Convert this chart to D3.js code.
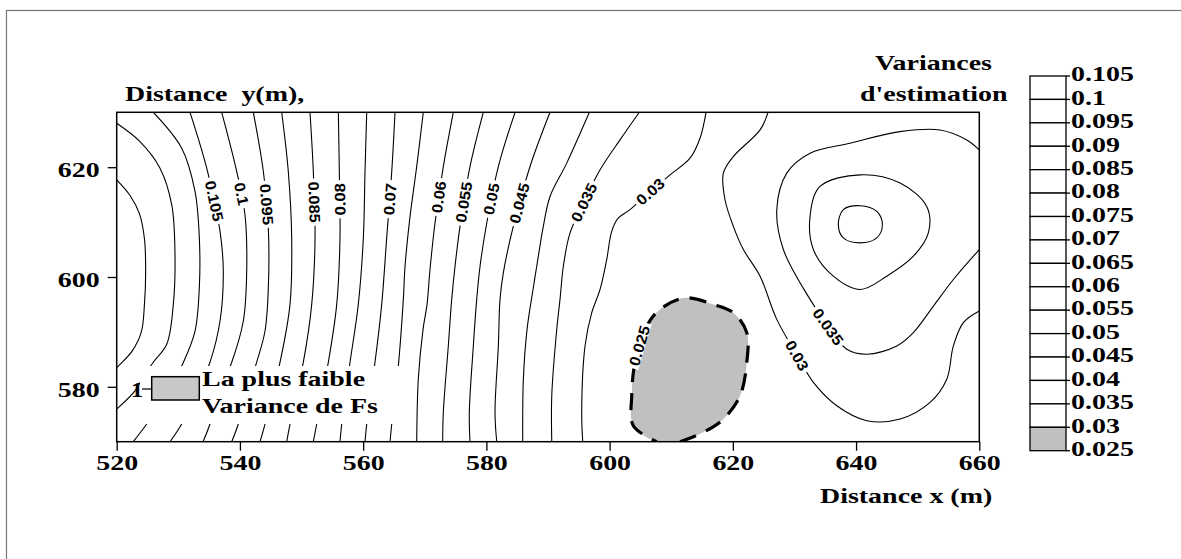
<!DOCTYPE html>
<html>
<head>
<meta charset="utf-8">
<script src="https://cdn.jsdelivr.net/npm/d3@7"></script>
<style>
  body { margin: 0; background: #fff; }
  .serif { font-family: "Liberation Serif", "Times New Roman", serif; font-weight: bold; }
  .clab { font-family: "Liberation Sans", Arial, sans-serif; font-weight: bold; }
</style>
</head>
<body>
<svg id="chart" width="1181" height="559"></svg>
<script>
// axis ticks
var xTicks = [520, 540, 560, 580, 600, 620, 640, 660];
var yTicks = [580, 600, 620];

// legend classes (top to bottom), lowest class is shaded
var legendLevels = ['0.105', '0.1', '0.095', '0.09', '0.085', '0.08', '0.075', '0.07',
                    '0.065', '0.06', '0.055', '0.05', '0.045', '0.04', '0.035', '0.03', '0.025'];

// contour lines, [x (m), y (m)]
var contourLines = [
  {level: '0.12', pts: [[520,617.7],[522.2,614.8],[523.7,611.5],[524.5,607],[524.7,601],[524.5,595],[524,590],[522.5,586.5],[520,583.5]]},
  {level: '0.115', pts: [[520,628.0],[523.78,624.66],[527.03,619.83],[528.93,613.17],[529.46,604.09],[529.19,595.01],[528.12,587.74],[525.94,584.48],[524.27,581.75],[522.97,579.26],[520,575.94]]},
  {level: '0.11', pts: [[525.94,630],[530.55,623.46],[532.71,615.58],[533.41,607.17],[533.41,598.09],[532.71,590.16],[530.76,584.3],[528.2,578.8],[524.87,573.22],[522.69,570]]},
  {level: '0.105', pts: [[531.9,630],[534.61,619.83],[536.77,608.32],[537.3,601.06],[536.77,591.98],[535.14,584.48],[533.0,579.0],[530.55,573.22],[528.65,570]]},
  {level: '0.1', pts: [[537.04,630],[539.48,619.21],[540.82,611.35],[541.1,601.06],[540.55,591.98],[538.67,584.48],[536.6,579.0],[535.14,573.22],[534.01,570]]},
  {level: '0.095', pts: [[542.17,630],[543.8,619.21],[544.61,608.94],[544.61,598.04],[544.07,590.16],[542.72,584.48],[541.2,579.0],[539.74,573.22],[538.67,570]]},
  {level: '0.09', pts: [[546.78,630],[547.85,619.21],[548.4,607.12],[548.13,595.01],[546.51,584.48],[545.3,579.0],[544.07,573.22],[543.26,570]]},
  {level: '0.085', pts: [[551.37,630],[551.91,619.21],[552.19,607.12],[551.65,595.01],[550.29,584.48],[549.2,579.0],[548.13,573.22],[547.59,570]]},
  {level: '0.08', pts: [[555.97,630],[556.13,619.21],[556.24,607.12],[555.71,595.01],[554.35,584.48],[553.4,579.0],[552.46,573.22],[551.91,570]]},
  {level: '0.075', pts: [[560.58,630],[560.3,619.21],[560.03,607.12],[559.21,595.01],[557.87,584.48],[557.2,579.0],[556.52,573.22],[556.24,570]]},
  {level: '0.07', pts: [[565.17,630],[564.64,619.21],[563.82,607.12],[563.01,595.01],[561.92,584.48],[561.2,579.0],[560.58,573.22],[560.3,570]]},
  {level: '0.065', pts: [[569.76,630],[568.69,620.12],[567.61,611.04],[566.8,601.96],[566.52,595.92],[565.71,583.8],[564.64,573.22],[564.36,570]]},
  {level: '0.06', pts: [[574.63,630],[573.01,620.12],[571.66,609.84],[570.85,601.36],[570.37,595.01],[569.72,590.47],[568.95,581.39],[568.69,570]]},
  {level: '0.055', pts: [[579.5,630],[577.34,620.12],[575.72,609.23],[574.91,601.96],[574.37,595.92],[573.82,587.44],[573.01,575.34],[572.91,570]]},
  {level: '0.05', pts: [[584.65,630],[581.94,620.12],[580.06,609.84],[578.97,601.96],[578.43,595.92],[577.88,587.44],[577.23,575.34],[577.34,570]]},
  {level: '0.045', pts: [[590.33,630],[587.08,620.12],[584.11,608.03],[582.75,600.76],[582.21,595.92],[581.94,587.44],[581.4,575.34],[581.68,570]]},
  {level: '0.04', pts: [[596.71,630],[593.04,620.74],[590.33,614.67],[589.24,609.23],[588.17,601.96],[587.57,597.73],[586.6,590.47],[586.0,581.39],[585.9,570]]},
  {level: '0.035', pts: [[604.82,630],[601.69,624.97],[598.45,619.52],[596.01,614.07],[593.58,608.03],[592.49,601.96],[591.95,595.92],[591.42,590.47],[590.61,578.36],[590.61,570]]},
  {level: '0.03', pts: [[615.65,630],[614.67,625.28],[613.05,621.65],[609.8,618.61],[606.56,615.53],[603.31,612.26],[601.42,610.75],[600.34,608.32],[599.53,603.18],[598.45,597.73],[597.1,593.5],[596.01,587.44],[595.47,575.34],[595.64,570]]},
  {level: '0.03', pts: [[625.71,630],[624.42,626.79],[620.08,621.94],[618.46,618.92],[618.73,614.07],[620.08,609.23],[621.71,605.0],[624.42,600.15],[627.13,592.28],[630.42,585.75],[633.07,580.79],[636.87,576.54],[641.74,573.82],[647.14,574.12],[652.01,577.16],[654.72,581.39],[655.79,587.44],[657.41,591.69],[660,593.8]]},
  {level: '0.035', pts: [[660,623.15],[657.97,624.97],[653.63,626.79],[647.14,626.48],[639.03,624.37],[632.53,622.55],[628.75,618.92],[627.13,612.26],[628.2,605.0],[632.53,595.92],[635.45,591.01],[638.49,586.84],[641.74,585.93],[646.61,587.44],[649.3,589.87],[652.55,594.7],[655.79,599.55],[660,605.0]]},
  {level: '0.04', closed: true, pts: [[632.53,611.04],[634.15,616.49],[640.65,618.61],[647.14,617.11],[651.47,612.86],[651.73,608.03],[649.3,603.78],[644.98,600.15],[640.65,597.73],[636.31,600.15],[633.07,605.0]]},
  {level: '0.045', closed: true, pts: [[637.12,609.54],[637.93,612.26],[640.65,612.99],[643.36,611.95],[644.27,609.54],[643.36,607.12],[640.65,606.21],[637.93,607.12]]}
];

// lowest variance zone (0.025), open at the lower border
var minZone = [[611.43,570],[615.21,571.71],[618.46,574.12],[621.17,578.36],[622.26,584.42],[622.26,589.87],[620.08,593.5],[616.84,595.01],[612.2,596.2],[608.18,594.1],[606.02,591.07],[604.12,584.42],[603.59,578.36],[603.85,572.91],[607.65,570]];

// where the printed labels sit: [level, x, y, reading direction]
var labelSpots = [
  ['0.105', 535.63, 613.77, 'down'], ['0.1', 539.8, 615.0, 'down'], ['0.095', 544.35, 613.17, 'down'],
  ['0.085', 551.91, 613.7, 'down'], ['0.08', 556.24, 614.07, 'up'], ['0.07', 563.82, 614.25, 'up'],
  ['0.06', 572.48, 614.44, 'up'], ['0.055', 576.53, 613.53, 'up'], ['0.05', 580.87, 614.25, 'up'],
  ['0.045', 585.19, 613.53, 'up'], ['0.035', 596.01, 613.53, 'up'], ['0.03', 606.84, 615.29, 'up'],
  ['0.035', 635.45, 591.01, 'down'], ['0.03', 630.42, 585.75, 'down'], ['0.025', 605.43, 587.38, 'up']
];

var svg = d3.select('#chart');
var x = d3.scaleLinear().domain([520, 660]).range([116.7, 979.3]);
var y = d3.scaleLinear().domain([570, 630]).range([441.7, 112.3]);
var K = 1.27;   // the source picture is stretched sideways

function stretch(sel, k) {
  sel.each(function() {
    var w = this.getComputedTextLength();
    d3.select(this).attr('textLength', w * k).attr('lengthAdjust', 'spacingAndGlyphs');
  });
  return sel;
}

// outer frame
svg.append('rect').attr('x', 6.5).attr('y', 10.5).attr('width', 1200).attr('height', 600)
   .attr('fill', 'none').attr('stroke', '#777').attr('stroke-width', 1.2);

svg.append('clipPath').attr('id', 'plotclip')
   .append('rect').attr('x', x(520)).attr('y', y(630)).attr('width', x(660) - x(520)).attr('height', y(570) - y(630));

var plot = svg.append('g').attr('clip-path', 'url(#plotclip)');

var line = d3.line().x(function(d){return x(d[0]);}).y(function(d){return y(d[1]);}).curve(d3.curveCatmullRom.alpha(0.5));
var loop = d3.line().x(function(d){return x(d[0]);}).y(function(d){return y(d[1]);}).curve(d3.curveCatmullRomClosed.alpha(0.5));

// shaded minimum zone
plot.append('path').attr('d', loop(minZone)).attr('fill', '#c0c0c0').attr('stroke', 'none');

var paths = plot.selectAll('.cline')
  .data(contourLines)
  .enter()
  .append('path')
  .classed('cline', true)
  .attr('d', function(d){return d.closed ? loop(d.pts) : line(d.pts);})
  .attr('fill', 'none').attr('stroke', '#000').attr('stroke-width', 1.1);

var zonePath = plot.append('path').attr('d', line(minZone))
  .attr('fill', 'none').attr('stroke', '#000').attr('stroke-width', 3.2)
  .attr('stroke-dasharray', '17,11').attr('stroke-linecap', 'butt');

// contour labels, placed on the nearest line
var allPaths = paths.nodes().concat([zonePath.node()]);
var allLevels = contourLines.map(function(d){return d.level;}).concat(['0.025']);

labelSpots.forEach(function(s) {
  var tx = x(s[1]), ty = y(s[2]), best = null;
  allPaths.forEach(function(node, i) {
    if (allLevels[i] !== s[0]) return;
    var L = node.getTotalLength();
    for (var t = 0; t <= L; t += 1) {
      var p = node.getPointAtLength(t);
      var dd = (p.x - tx) * (p.x - tx) + (p.y - ty) * (p.y - ty);
      if (!best || dd < best.dd) best = {dd: dd, t: t, node: node, L: L, p: p};
    }
  });
  var a = best.node.getPointAtLength(Math.max(0, best.t - 8));
  var b = best.node.getPointAtLength(Math.min(best.L, best.t + 8));
  var ang = Math.atan2(b.y - a.y, b.x - a.x) * 180 / Math.PI;
  var sin = Math.sin(ang * Math.PI / 180);
  if ((s[3] === 'down' && sin < 0) || (s[3] === 'up' && sin > 0)) ang += 180;
  var g = svg.append('g').attr('transform', 'translate(' + best.p.x + ',' + best.p.y + ') rotate(' + ang + ')');
  var bg = g.append('rect').attr('fill', '#fff');
  var t = g.append('text').attr('class', 'clab').attr('font-size', 15)
    .attr('text-anchor', 'middle').attr('dominant-baseline', 'central').text(s[0]);
  var w0 = t.node().getComputedTextLength();
  stretch(t, 1.1);
  var w = w0 * 1.1;
  bg.attr('x', -w / 2 - 3).attr('y', -6).attr('width', w + 6).attr('height', 12);
});

// plot frame
svg.append('rect').attr('x', x(520)).attr('y', y(630)).attr('width', x(660) - x(520)).attr('height', y(570) - y(630))
   .attr('fill', 'none').attr('stroke', '#000').attr('stroke-width', 1.5);

// axes
var gx = svg.append('g').attr('transform', 'translate(0,' + y(570) + ')')
  .call(d3.axisBottom(x).tickValues(xTicks).tickSize(9).tickPadding(4).tickFormat(d3.format('d')));
var gy = svg.append('g').attr('transform', 'translate(' + x(520) + ',0)')
  .call(d3.axisLeft(y).tickValues(yTicks).tickSize(9).tickPadding(8).tickFormat(d3.format('d')));
[gx, gy].forEach(function(g) {
  g.select('.domain').remove();
  g.selectAll('line').attr('stroke', '#000').attr('stroke-width', 1.3);
  g.selectAll('text').attr('class', 'serif').attr('font-size', 22).attr('fill', '#000')
   .style('font-family', '"Liberation Serif", "Times New Roman", serif');
  stretch(g.selectAll('text'), K);
});
gy.selectAll('text').attr('dy', '0.42em');

// axis titles
stretch(svg.append('text').attr('class', 'serif').attr('x', 125).attr('y', 101).attr('font-size', 22)
  .text('Distance\u00a0 y(m),'), K);
stretch(svg.append('text').attr('class', 'serif').attr('x', 820).attr('y', 503).attr('font-size', 22)
  .text('Distance x (m)'), K);

// lowest-variance legend inside the map
svg.append('rect').attr('x', 140).attr('y', 366).attr('width', 265).attr('height', 58).attr('fill', '#fff');
svg.append('rect').attr('x', 151.7).attr('y', 376.7).attr('width', 47.6).attr('height', 23.3)
   .attr('fill', '#c8c8c8').attr('stroke', '#000').attr('stroke-width', 1.5);
svg.append('line').attr('x1', 142).attr('y1', 389).attr('x2', 151.7).attr('y2', 389).attr('stroke', '#000').attr('stroke-width', 1.2);
stretch(svg.append('text').attr('class', 'serif').attr('x', 131).attr('y', 397).attr('font-size', 22).text('1'), 1.1);
stretch(svg.append('text').attr('class', 'serif').attr('x', 202).attr('y', 386).attr('font-size', 22).text('La plus faible'), K);
stretch(svg.append('text').attr('class', 'serif').attr('x', 202).attr('y', 413).attr('font-size', 22).text('Variance de Fs'), K);

// colour legend on the right
var lg = d3.scaleLinear().domain([0, legendLevels.length - 1]).range([76, 450.7]);
stretch(svg.append('text').attr('class', 'serif').attr('x', 875).attr('y', 70).attr('font-size', 22).text('Variances'), K);
stretch(svg.append('text').attr('class', 'serif').attr('x', 860).attr('y', 101).attr('font-size', 22).text("d'estimation"), K);

svg.selectAll('.lcell')
  .data(legendLevels.slice(1))
  .enter()
  .append('rect')
  .classed('lcell', true)
  .attr('x', 1030).attr('width', 36)
  .attr('y', function(d, i){return lg(i);})
  .attr('height', function(d, i){return lg(i + 1) - lg(i);})
  .attr('fill', function(d){return d === '0.025' ? '#c0c0c0' : '#fff';})
  .attr('stroke', '#000').attr('stroke-width', 1.3);

svg.selectAll('.ltick')
  .data(legendLevels)
  .enter()
  .append('line')
  .classed('ltick', true)
  .attr('x1', 1066).attr('x2', 1070)
  .attr('y1', function(d, i){return lg(i);}).attr('y2', function(d, i){return lg(i);})
  .attr('stroke', '#000').attr('stroke-width', 1.3);

stretch(svg.selectAll('.llab')
  .data(legendLevels)
  .enter()
  .append('text')
  .classed('llab', true)
  .attr('class', 'serif')
  .attr('x', 1071)
  .attr('y', function(d, i){return lg(i) + 5.3;})
  .attr('font-size', 22)
  .text(function(d){return d;}), K);
</script>
</body>
</html>
